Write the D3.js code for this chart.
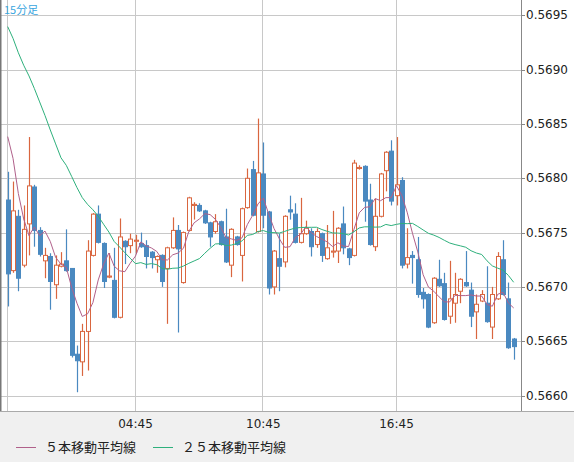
<!DOCTYPE html>
<html><head><meta charset="utf-8">
<script src="https://cdn.jsdelivr.net/npm/d3@7"></script>
<style>body{margin:0;background:#fff}</style>
</head><body><div class="canva"></div>
<script>
// 15-minute candles
const opens = [0.56780,0.56715,0.56765,0.56720,0.56758,0.56792,0.56752,0.56724,0.56728,0.56702,0.56719,0.56724,0.56717,0.56638,0.56631,0.56659,0.56729,0.56767,0.56740,0.56709,0.56706,0.56672,0.56742,0.56738,0.56742,0.56740,0.56738,0.56732,0.56725,0.56729,0.56717,0.56736,0.56752,0.56704,0.56752,0.56775,0.56775,0.56770,0.56759,0.56751,0.56760,0.56746,0.56720,0.56746,0.56729,0.56773,0.56808,0.56751,0.56804,0.56769,0.56700,0.56726,0.56723,0.56771,0.56767,0.56741,0.56749,0.56751,0.56739,0.56749,0.56726,0.56732,0.56733,0.56758,0.56735,0.56729,0.56809,0.56811,0.56780,0.56737,0.56765,0.56807,0.56825,0.56784,0.56798,0.56721,0.56729,0.56725,0.56695,0.56693,0.56667,0.56707,0.56703,0.56673,0.56685,0.56696,0.56704,0.56697,0.56677,0.56687,0.56685,0.56663,0.56689,0.56725,0.56689,0.56652];
const highs = [0.56806,0.56797,0.56771,0.56775,0.56838,0.56794,0.56755,0.56736,0.56731,0.56729,0.56732,0.56753,0.56717,0.56646,0.56666,0.56743,0.56768,0.56775,0.56741,0.56731,0.56736,0.56763,0.56743,0.56749,0.56748,0.56750,0.56743,0.56733,0.56729,0.56730,0.56737,0.56764,0.56757,0.56751,0.56783,0.56778,0.56777,0.56771,0.56760,0.56767,0.56761,0.56772,0.56754,0.56747,0.56773,0.56809,0.56816,0.56855,0.56833,0.56770,0.56734,0.56749,0.56766,0.56784,0.56777,0.56782,0.56761,0.56754,0.56754,0.56750,0.56757,0.56770,0.56755,0.56774,0.56736,0.56817,0.56812,0.56812,0.56795,0.56781,0.56805,0.56825,0.56835,0.56838,0.56801,0.56754,0.56733,0.56746,0.56699,0.56694,0.56709,0.56725,0.56713,0.56724,0.56713,0.56708,0.56733,0.56704,0.56693,0.56697,0.56719,0.56700,0.56732,0.56743,0.56704,0.56653];
const lows = [0.56682,0.56713,0.56696,0.56718,0.56729,0.56737,0.56728,0.56708,0.56679,0.56689,0.56718,0.56714,0.56635,0.56603,0.56618,0.56623,0.56728,0.56740,0.56699,0.56708,0.56671,0.56671,0.56721,0.56731,0.56731,0.56736,0.56717,0.56717,0.56713,0.56700,0.56666,0.56735,0.56658,0.56703,0.56751,0.56762,0.56769,0.56758,0.56737,0.56749,0.56738,0.56722,0.56709,0.56738,0.56705,0.56772,0.56765,0.56750,0.56754,0.56693,0.56693,0.56696,0.56718,0.56762,0.56740,0.56740,0.56748,0.56728,0.56736,0.56723,0.56725,0.56727,0.56722,0.56730,0.56720,0.56728,0.56808,0.56760,0.56738,0.56733,0.56764,0.56788,0.56775,0.56775,0.56717,0.56717,0.56703,0.56690,0.56680,0.56662,0.56666,0.56700,0.56669,0.56666,0.56667,0.56685,0.56700,0.56663,0.56652,0.56686,0.56667,0.56652,0.56688,0.56692,0.56643,0.56633];
const closes = [0.56712,0.56770,0.56708,0.56753,0.56793,0.56752,0.56730,0.56729,0.56705,0.56720,0.56721,0.56715,0.56637,0.56632,0.56659,0.56733,0.56767,0.56741,0.56705,0.56710,0.56672,0.56746,0.56737,0.56744,0.56743,0.56737,0.56728,0.56727,0.56728,0.56705,0.56736,0.56752,0.56735,0.56750,0.56782,0.56776,0.56770,0.56759,0.56746,0.56760,0.56739,0.56723,0.56753,0.56739,0.56772,0.56800,0.56766,0.56805,0.56766,0.56699,0.56733,0.56719,0.56765,0.56769,0.56741,0.56749,0.56754,0.56737,0.56751,0.56729,0.56736,0.56733,0.56754,0.56736,0.56727,0.56814,0.56810,0.56779,0.56739,0.56765,0.56804,0.56824,0.56779,0.56794,0.56720,0.56727,0.56727,0.56693,0.56689,0.56663,0.56708,0.56701,0.56670,0.56689,0.56693,0.56707,0.56701,0.56673,0.56684,0.56693,0.56668,0.56693,0.56728,0.56693,0.56644,0.56645];
// closes before the visible window (for the moving averages)
const prevCloses = [0.5704,0.5704,0.5704,0.5704,0.5704,0.5704,0.5704,0.5704,0.5704,0.5704,0.5689,0.5689,0.5689,0.5689,0.5689,0.5689,0.5689,0.5689,0.5689,0.5689,0.5687,0.5687,0.5687,0.5687];

const priceTicks = [0.5660,0.5665,0.5670,0.5675,0.5680,0.5685,0.5690,0.5695];
const timeGrid = [0,24,48,73];
const timeLabels = ["","04:45","10:45","16:45"];
const legendNames = ["５本移動平均線","２５本移動平均線"];
const maColors = ["#b0608a","#2eb07c"];

const W = 574, H = 462, plotR = 521, plotB = 411;
const svg = d3.select(".canva").append("svg").attr("width", W).attr("height", H)
  .style("font-family","'DejaVu Sans', sans-serif");

svg.append("rect").attr("width", W).attr("height", H).attr("fill", "#fff");
svg.append("rect").attr("y", plotB).attr("width", W).attr("height", H - plotB).attr("fill", "#f0f0f0");

const x = d3.scaleLinear().domain([0, 96]).range([7.7, 519]);
const y = d3.scaleLinear().domain([0.5660, 0.5685]).range([395.5, 124]);

// grid
svg.selectAll(".hg").data(priceTicks).enter().append("line")
  .attr("x1", 0).attr("x2", plotR)
  .attr("y1", d => Math.round(y(d)) + 0.5).attr("y2", d => Math.round(y(d)) + 0.5)
  .attr("stroke", "#c8c8c8");
svg.selectAll(".vg").data(timeGrid).enter().append("line")
  .attr("x1", d => Math.round(x(d)) - 0.5).attr("x2", d => Math.round(x(d)) - 0.5)
  .attr("y1", 0).attr("y2", plotB)
  .attr("stroke", "#c8c8c8");

// moving averages
function ma(n) {
  const all = prevCloses.concat(closes);
  const off = prevCloses.length;
  return closes.map((c, i) => d3.mean(all.slice(off + i - n + 1, off + i + 1)));
}
const line = d3.line().x((d, i) => x(i)).y(d => y(d));

// candles
const g = svg.append("g");
const up = (d, i) => closes[i] >= opens[i];
g.selectAll(".wick").data(closes).enter().append("line")
  .attr("x1", (d, i) => Math.round(x(i)) + 0.5).attr("x2", (d, i) => Math.round(x(i)) + 0.5)
  .attr("y1", (d, i) => y(highs[i])).attr("y2", (d, i) => y(lows[i]))
  .attr("stroke", (d, i) => up(d, i) ? "#d9663f" : "#4a89c0").attr("stroke-width", 1.2);
g.selectAll(".body").data(closes).enter().append("rect")
  .attr("x", (d, i) => Math.round(x(i)) - 1.5)
  .attr("width", 4)
  .attr("y", (d, i) => y(Math.max(opens[i], closes[i])))
  .attr("height", (d, i) => Math.max(1, Math.abs(y(opens[i]) - y(closes[i]))))
  .attr("fill", (d, i) => up(d, i) ? "#fff" : "#4a89c0")
  .attr("stroke", (d, i) => up(d, i) ? "#d9663f" : "#4a89c0")
  .attr("stroke-width", 1);

[5, 25].forEach((n, k) => {
  svg.append("path").datum(ma(n)).attr("d", line)
    .attr("fill", "none").attr("stroke", maColors[k]).attr("stroke-width", 1);
});

// frame
svg.append("rect").attr("x", plotR).attr("width", W - plotR).attr("height", plotB).attr("fill", "#fff");
svg.append("line").attr("x1", 0.5).attr("x2", 0.5).attr("y1", 0).attr("y2", plotB).attr("stroke", "#777").attr("stroke-width", 2);
svg.append("line").attr("x1", plotR + 0.5).attr("x2", plotR + 0.5).attr("y1", 0).attr("y2", plotB).attr("stroke", "#888");
svg.append("line").attr("x1", 0).attr("x2", W).attr("y1", plotB + 0.5).attr("y2", plotB + 0.5).attr("stroke", "#aaa");

// price axis
svg.selectAll(".pt").data(priceTicks).enter().append("text")
  .attr("x", 526).attr("y", d => y(d) + 4)
  .attr("font-size", 12).attr("fill", "#222").text(d => d.toFixed(4));
svg.selectAll(".tick").data(priceTicks).enter().append("line")
  .attr("x1", plotR).attr("x2", plotR + 4)
  .attr("y1", d => Math.round(y(d)) + 0.5).attr("y2", d => Math.round(y(d)) + 0.5)
  .attr("stroke", "#888");

// time axis
svg.selectAll(".tl").data(timeGrid).enter().append("text")
  .attr("x", d => x(d)).attr("y", 428).attr("text-anchor", "middle")
  .attr("font-size", 12).attr("fill", "#222").text((d, i) => timeLabels[i]);

svg.append("text").attr("x", 4).attr("y", 14).attr("font-size", 11)
  .attr("fill", "#3aa6e0").style("font-family", "'Noto Sans CJK JP', sans-serif").text("15分足");

// legend
const lx = [16, 153];
legendNames.forEach((name, k) => {
  svg.append("line").attr("x1", lx[k]).attr("x2", lx[k] + 20).attr("y1", 447.5).attr("y2", 447.5)
    .attr("stroke", maColors[k]);
  svg.append("text").attr("x", lx[k] + 29).attr("y", 452).attr("font-size", 13)
    .attr("fill", "#222").style("font-family", "'Noto Sans CJK JP', sans-serif").text(name);
});
</script></body></html>
